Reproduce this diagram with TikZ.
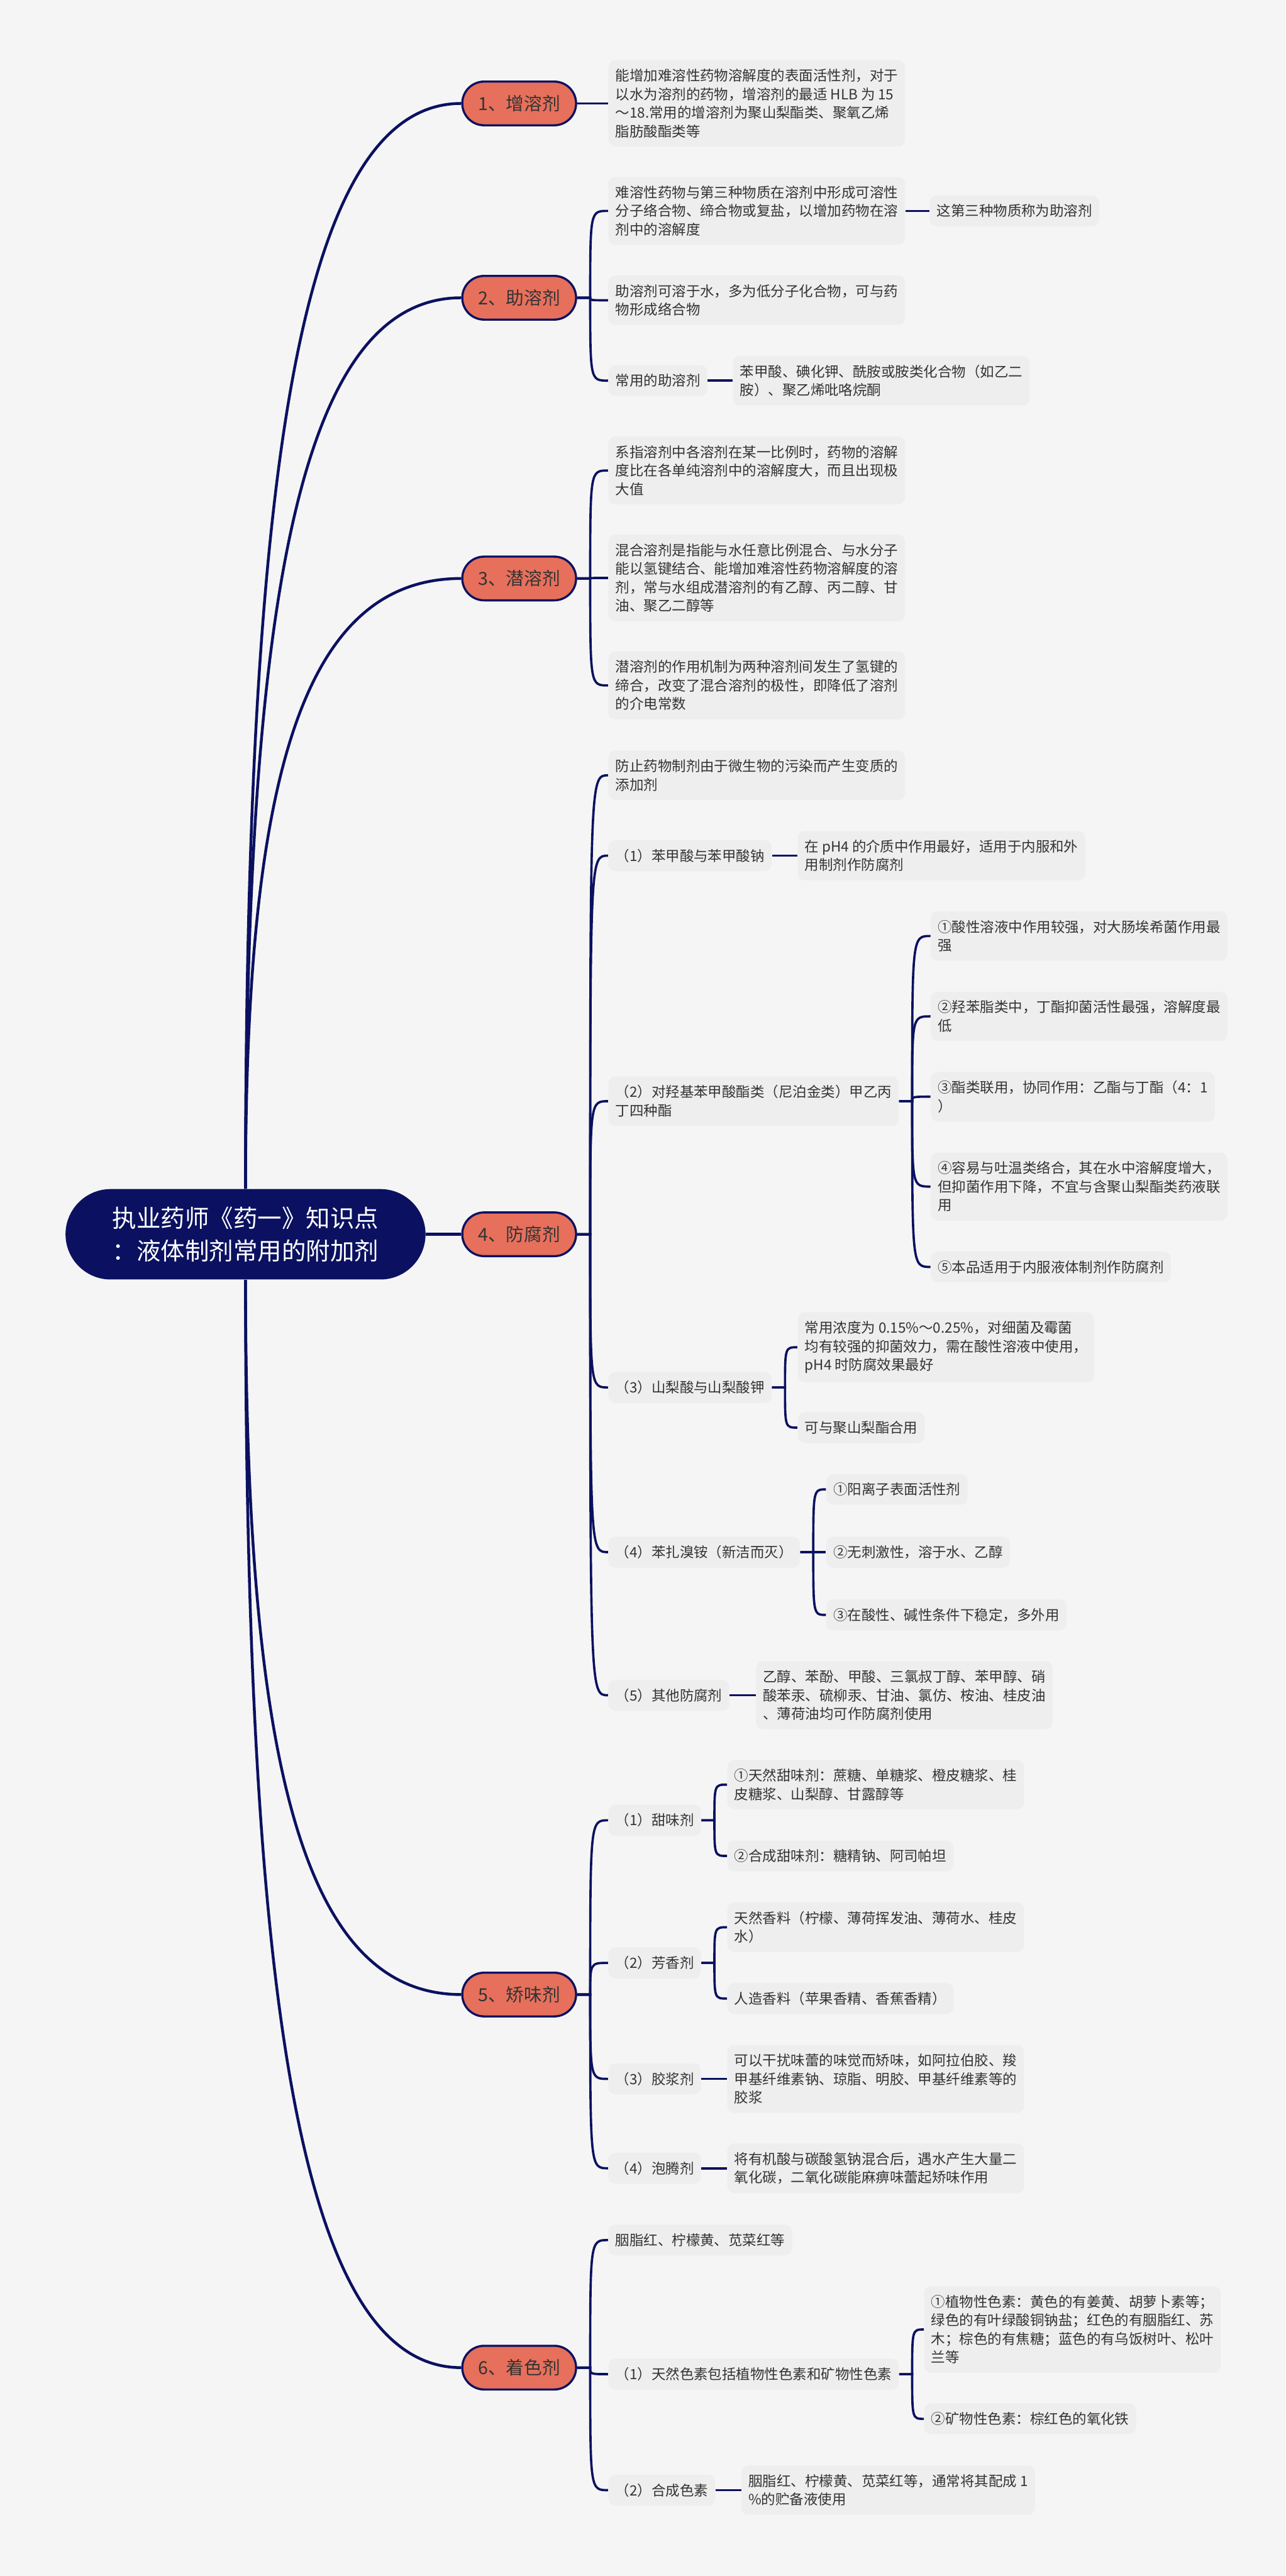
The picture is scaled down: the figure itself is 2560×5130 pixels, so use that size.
\documentclass[tikz,border=0pt]{standalone}
\usepackage{fontspec}
\setmainfont{Noto Sans CJK SC}
\usepackage{tikz}
\usetikzlibrary{calc,shapes.misc}
\definecolor{navy}{HTML}{0B1160}
\definecolor{salmon}{HTML}{E6705C}
\definecolor{leafgray}{HTML}{EEEEEE}
\definecolor{bggray}{HTML}{F5F5F5}
\definecolor{ink}{HTML}{333333}

\begin{document}
\begin{tikzpicture}[x=0.01cm, y=-0.01cm,
    topic/.style={rounded rectangle, fill=navy, text=white, minimum width=7.4cm, minimum height=1.8cm, align=center, font=\fontsize{13.7pt}{18.5pt}\selectfont},
    branch/.style={rounded rectangle, draw=navy, line width=1.2pt, fill=salmon, text=ink, minimum width=2.5cm, minimum height=0.87cm, font=\fontsize{10.2pt}{12pt}\selectfont},
    leaf/.style={anchor=west, fill=leafgray, text=ink, rounded corners=4pt, inner xsep=4pt, inner ysep=5pt, align=left, font=\fontsize{8pt}{10.5pt}\selectfont},
    trunk/.style={draw=navy, line width=1.6pt},
    link/.style={draw=navy, line width=1.3pt}]
        % canvas
        \fill[bggray] (0,0) rectangle (2560,5130);
        % centre topic and main branches
        \node[topic] (root) at (489,2458) {执业药师《药一》知识点\\：液体制剂常用的附加剂};
        \node[branch] (b1) at (1034,206) {1、增溶剂};
        \node[branch] (b2) at (1034,593) {2、助溶剂};
        \node[branch] (b3) at (1034,1152) {3、潜溶剂};
        \node[branch] (b4) at (1034,2458) {4、防腐剂};
        \node[branch] (b5) at (1034,3972) {5、矫味剂};
        \node[branch] (b6) at (1034,4715) {6、着色剂};
        % 1 增溶剂
        \node[leaf] (s1a) at (1211,206) {能增加难溶性药物溶解度的表面活性剂，对于\\以水为溶剂的药物，增溶剂的最适 HLB 为 15\\～18.常用的增溶剂为聚山梨酯类、聚氧乙烯\\脂肪酸酯类等};
        % 2 助溶剂
        \node[leaf] (s2a) at (1211,420) {难溶性药物与第三种物质在溶剂中形成可溶性\\分子络合物、缔合物或复盐，以增加药物在溶\\剂中的溶解度};
        \node[leaf] (s2a1) at (1851,420) {这第三种物质称为助溶剂};
        \node[leaf] (s2b) at (1211,598) {助溶剂可溶于水，多为低分子化合物，可与药\\物形成络合物};
        \node[leaf] (s2c) at (1211,758) {常用的助溶剂};
        \node[leaf] (s2c1) at (1459,758) {苯甲酸、碘化钾、酰胺或胺类化合物（如乙二\\胺）、聚乙烯吡咯烷酮};
        % 3 潜溶剂
        \node[leaf] (s3a) at (1211,937) {系指溶剂中各溶剂在某一比例时，药物的溶解\\度比在各单纯溶剂中的溶解度大，而且出现极\\大值};
        \node[leaf] (s3b) at (1211,1151) {混合溶剂是指能与水任意比例混合、与水分子\\能以氢键结合、能增加难溶性药物溶解度的溶\\剂，常与水组成潜溶剂的有乙醇、丙二醇、甘\\油、聚乙二醇等};
        \node[leaf] (s3c) at (1211,1365) {潜溶剂的作用机制为两种溶剂间发生了氢键的\\缔合，改变了混合溶剂的极性，即降低了溶剂\\的介电常数};
        % 4 防腐剂
        \node[leaf] (s4a) at (1211,1544) {防止药物制剂由于微生物的污染而产生变质的\\添加剂};
        \node[leaf] (s4b) at (1211,1704) {（1）苯甲酸与苯甲酸钠};
        \node[leaf] (s4b1) at (1588,1704) {在 pH4 的介质中作用最好，适用于内服和外\\用制剂作防腐剂};
        \node[leaf] (s4c) at (1211,2193) {（2）对羟基苯甲酸酯类（尼泊金类）甲乙丙\\丁四种酯};
        \node[leaf] (s4c1) at (1853,1864) {①酸性溶液中作用较强，对大肠埃希菌作用最\\强};
        \node[leaf] (s4c2) at (1853,2024) {②羟苯脂类中，丁酯抑菌活性最强，溶解度最\\低};
        \node[leaf] (s4c3) at (1853,2184) {③酯类联用，协同作用：乙酯与丁酯（4：1\\）};
        \node[leaf] (s4c4) at (1853,2363) {④容易与吐温类络合，其在水中溶解度增大，\\但抑菌作用下降，不宜与含聚山梨酯类药液联\\用};
        \node[leaf] (s4c5) at (1853,2523) {⑤本品适用于内服液体制剂作防腐剂};
        \node[leaf] (s4d) at (1211,2763) {（3）山梨酸与山梨酸钾};
        \node[leaf] (s4d1) at (1588,2683) {常用浓度为 0.15\%～0.25\%，对细菌及霉菌\\均有较强的抑菌效力，需在酸性溶液中使用，\\pH4 时防腐效果最好};
        \node[leaf] (s4d2) at (1588,2843) {可与聚山梨酯合用};
        \node[leaf] (s4e) at (1211,3091) {（4）苯扎溴铵（新洁而灭）};
        \node[leaf] (s4e1) at (1645,2966) {①阳离子表面活性剂};
        \node[leaf] (s4e2) at (1645,3091) {②无刺激性，溶于水、乙醇};
        \node[leaf] (s4e3) at (1645,3216) {③在酸性、碱性条件下稳定，多外用};
        \node[leaf] (s4f) at (1211,3376) {（5）其他防腐剂};
        \node[leaf] (s4f1) at (1505,3376) {乙醇、苯酚、甲酸、三氯叔丁醇、苯甲醇、硝\\酸苯汞、硫柳汞、甘油、氯仿、桉油、桂皮油\\、薄荷油均可作防腐剂使用};
        % 5 矫味剂
        \node[leaf] (s5a) at (1211,3625) {（1）甜味剂};
        \node[leaf] (s5a1) at (1448,3554) {①天然甜味剂：蔗糖、单糖浆、橙皮糖浆、桂\\皮糖浆、山梨醇、甘露醇等};
        \node[leaf] (s5a2) at (1448,3696) {②合成甜味剂：糖精钠、阿司帕坦};
        \node[leaf] (s5b) at (1211,3909) {（2）芳香剂};
        \node[leaf] (s5b1) at (1448,3838) {天然香料（柠檬、薄荷挥发油、薄荷水、桂皮\\水）};
        \node[leaf] (s5b2) at (1448,3980) {人造香料（苹果香精、香蕉香精）};
        \node[leaf] (s5c) at (1211,4140) {（3）胶浆剂};
        \node[leaf] (s5c1) at (1448,4140) {可以干扰味蕾的味觉而矫味，如阿拉伯胶、羧\\甲基纤维素钠、琼脂、明胶、甲基纤维素等的\\胶浆};
        \node[leaf] (s5d) at (1211,4318) {（4）泡腾剂};
        \node[leaf] (s5d1) at (1448,4318) {将有机酸与碳酸氢钠混合后，遇水产生大量二\\氧化碳，二氧化碳能麻痹味蕾起矫味作用};
        % 6 着色剂
        \node[leaf] (s6a) at (1211,4461) {胭脂红、柠檬黄、苋菜红等};
        \node[leaf] (s6b) at (1211,4728) {（1）天然色素包括植物性色素和矿物性色素};
        \node[leaf] (s6b1) at (1840,4639) {①植物性色素：黄色的有姜黄、胡萝卜素等；\\绿色的有叶绿酸铜钠盐；红色的有胭脂红、苏\\木；棕色的有焦糖；蓝色的有乌饭树叶、松叶\\兰等};
        \node[leaf] (s6b2) at (1840,4817) {②矿物性色素：棕红色的氧化铁};
        \node[leaf] (s6c) at (1211,4959) {（2）合成色素};
        \node[leaf] (s6c1) at (1476,4959) {胭脂红、柠檬黄、苋菜红等，通常将其配成 1\\\%的贮备液使用};
        % trunks from the centre topic
        \foreach \b in {b1,b2,b3}
            \draw[trunk] (root.north) .. controls ($(root.north)!0.68!(root.north |- \b.west)$) and ($(\b.west)!0.73!(root.north |- \b.west)$) .. (\b.west);
        \foreach \b in {b5,b6}
            \draw[trunk] (root.south) .. controls ($(root.south)!0.68!(root.south |- \b.west)$) and ($(\b.west)!0.73!(root.south |- \b.west)$) .. (\b.west);
        \draw[trunk] (root.east) -- (b4.west);
        % single children
        \foreach \p/\c in {b1/s1a,s2a/s2a1,s2c/s2c1,s4b/s4b1,s4f/s4f1,s5c/s5c1,s5d/s5d1,s6c/s6c1}
            \draw[link] (\p.east) -- (\c.west);
        % forks
        \coordinate (j2) at ($(b2.east)+(26,0)$);
        \foreach \c in {s2a,s2b,s2c}
            \draw[link] (b2.east) -- (j2) .. controls (j2 |- \c.west) .. (\c.west);
        \coordinate (j3) at ($(b3.east)+(26,0)$);
        \foreach \c in {s3a,s3b,s3c}
            \draw[link] (b3.east) -- (j3) .. controls (j3 |- \c.west) .. (\c.west);
        \coordinate (j4) at ($(b4.east)+(26,0)$);
        \foreach \c in {s4a,s4b,s4c,s4d,s4e,s4f}
            \draw[link] (b4.east) -- (j4) .. controls (j4 |- \c.west) .. (\c.west);
        \coordinate (j4c) at ($(s4c.east)+(26,0)$);
        \foreach \c in {s4c1,s4c2,s4c3,s4c4,s4c5}
            \draw[link] (s4c.east) -- (j4c) .. controls (j4c |- \c.west) .. (\c.west);
        \coordinate (j4d) at ($(s4d.east)+(26,0)$);
        \foreach \c in {s4d1,s4d2}
            \draw[link] (s4d.east) -- (j4d) .. controls (j4d |- \c.west) .. (\c.west);
        \coordinate (j4e) at ($(s4e.east)+(26,0)$);
        \foreach \c in {s4e1,s4e2,s4e3}
            \draw[link] (s4e.east) -- (j4e) .. controls (j4e |- \c.west) .. (\c.west);
        \coordinate (j5) at ($(b5.east)+(26,0)$);
        \foreach \c in {s5a,s5b,s5c,s5d}
            \draw[link] (b5.east) -- (j5) .. controls (j5 |- \c.west) .. (\c.west);
        \coordinate (j5a) at ($(s5a.east)+(26,0)$);
        \foreach \c in {s5a1,s5a2}
            \draw[link] (s5a.east) -- (j5a) .. controls (j5a |- \c.west) .. (\c.west);
        \coordinate (j5b) at ($(s5b.east)+(26,0)$);
        \foreach \c in {s5b1,s5b2}
            \draw[link] (s5b.east) -- (j5b) .. controls (j5b |- \c.west) .. (\c.west);
        \coordinate (j6) at ($(b6.east)+(26,0)$);
        \foreach \c in {s6a,s6b,s6c}
            \draw[link] (b6.east) -- (j6) .. controls (j6 |- \c.west) .. (\c.west);
        \coordinate (j6b) at ($(s6b.east)+(26,0)$);
        \foreach \c in {s6b1,s6b2}
            \draw[link] (s6b.east) -- (j6b) .. controls (j6b |- \c.west) .. (\c.west);
    \end{tikzpicture}
\end{document}
